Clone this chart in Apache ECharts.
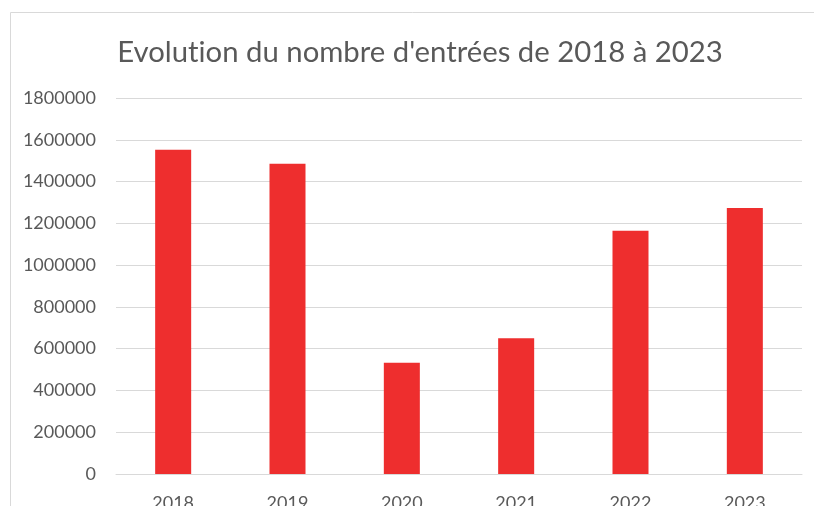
<!DOCTYPE html>
<html><head><meta charset="utf-8">
<script src="https://cdn.jsdelivr.net/npm/echarts@6/dist/echarts.min.js"></script>
<style>html,body{margin:0;padding:0;background:#fff}#c{width:814px;height:506px}</style>
</head><body><div id="c"></div>
<script>
const categories = ['2018','2019','2020','2021','2022','2023'];
const entrees = [1552000, 1485000, 533000, 650000, 1164000, 1274000];
const chart = echarts.init(document.getElementById('c'));
chart.setOption({
  animation: false,
  graphic: [{type:'rect', shape:{x:10.5,y:12.5,width:900,height:600}, style:{fill:'none',stroke:'#d9d9d9',lineWidth:1}, z:-1}],
  title: {text: "Evolut\u200Cion du nombre d'entrées de 2018 à 2023", left: 415, top: 33, textAlign: 'center',
    textStyle:{fontFamily:'Lato', fontWeight:'normal', fontSize:29.3, color:'#595959'}},
  grid: {left:116, right:12, top:98, bottom:32, containLabel:false, outerBoundsMode:'none'},
  xAxis: {type:'category', data: categories,
    axisLine:{lineStyle:{color:'#d9d9d9'}}, axisTick:{show:false},
    axisLabel:{fontFamily:'Lato', fontSize:18, color:'#595959', margin:20}},
  yAxis: {type:'value', min:0, max:1800000, interval:200000,
    axisLine:{show:false}, axisTick:{show:false},
    splitLine:{lineStyle:{color:'#d9d9d9', width:1}},
    axisLabel:{fontFamily:'Lato', fontSize:18, color:'#595959', margin:20, formatter: v => String(v)}},
  series: [{type:'bar', data: entrees, barWidth:'31.5%', itemStyle:{color:'#EE2E2E'}}]
});
</script></body></html>
